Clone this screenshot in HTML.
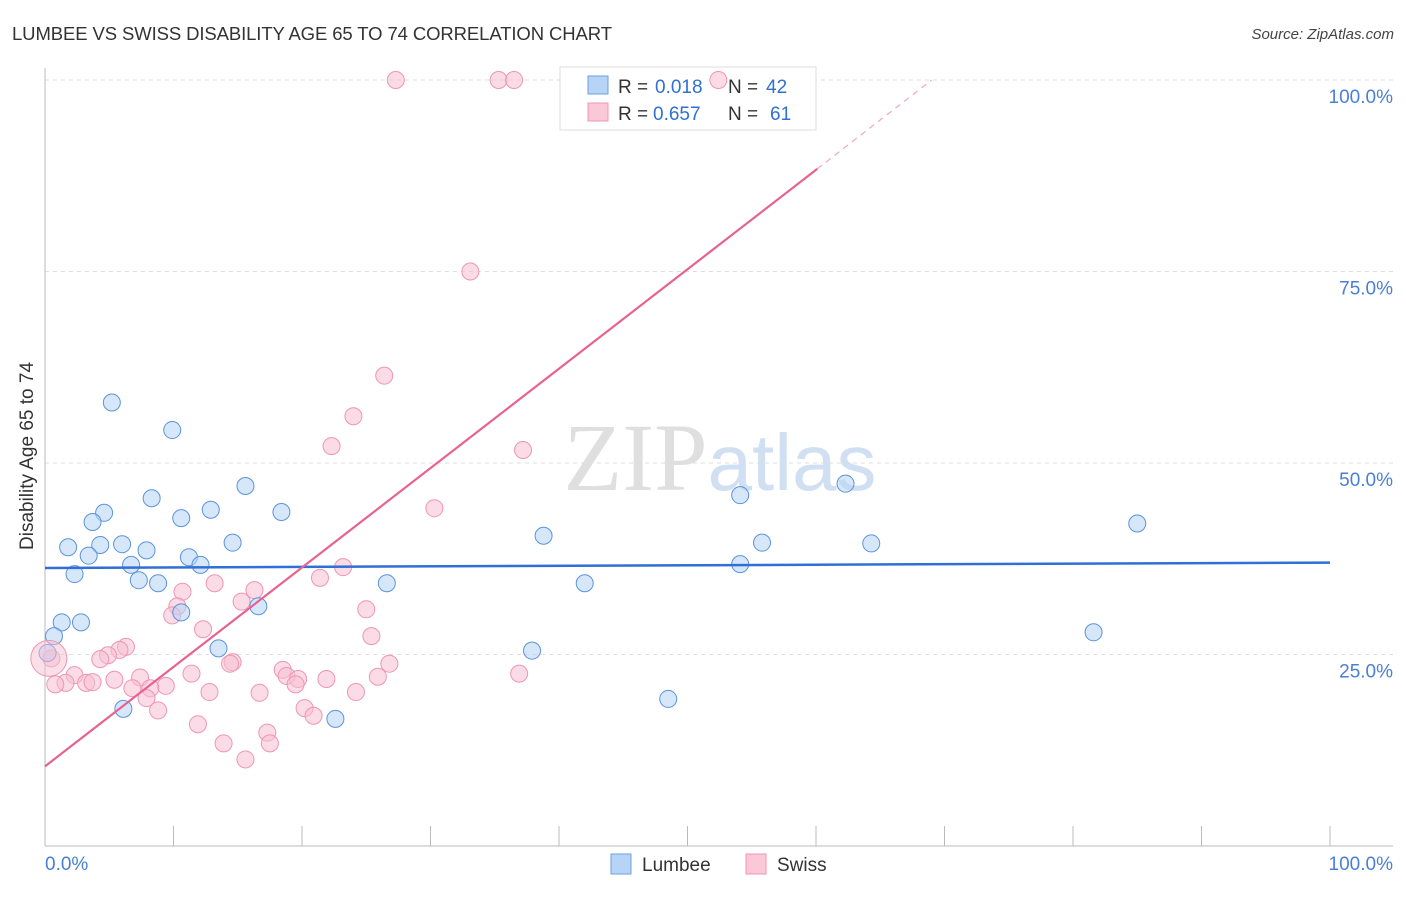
<!DOCTYPE html>
<html><head><meta charset="utf-8"><style>
body{margin:0;background:#fff;font-family:"Liberation Sans",sans-serif;}
svg text{font-family:"Liberation Sans",sans-serif;}
</style></head><body>
<svg id="chart" width="1406" height="892" viewBox="0 0 1406 892" xmlns="http://www.w3.org/2000/svg">
<text x="12" y="40" font-size="18.5" fill="#333" textLength="600">LUMBEE VS SWISS DISABILITY AGE 65 TO 74 CORRELATION CHART</text>
<text x="1394" y="39" font-size="15" fill="#444" text-anchor="end" font-style="italic">Source: ZipAtlas.com</text>
<text x="720" y="490" font-size="96" text-anchor="middle" fill="#ddd" opacity="0.8"><tspan font-family="Liberation Serif" fill="#d8d8d8">ZIP</tspan><tspan fill="#c5d8ef" font-size="80">atlas</tspan></text>
<g id="grid"></g>
<g id="axes"></g>
<g>
<rect x="560" y="67" width="256" height="63" fill="#fff" stroke="#ddd"/>
<rect x="588" y="76" width="20" height="18" fill="#b7d3f5" stroke="#6d9fe0"/>
<rect x="588" y="103" width="20" height="18" fill="#fbc8d8" stroke="#f095b4"/>
<text x="618" y="93" font-size="19" fill="#333">R = </text><text x="655" y="93" font-size="19" fill="#2f6fd6">0.018</text>
<text x="728" y="93" font-size="19" fill="#333">N = </text><text x="766" y="93" font-size="19" fill="#2f6fd6">42</text>
<text x="618" y="120" font-size="19" fill="#333">R = </text><text x="653" y="120" font-size="19" fill="#2f6fd6">0.657</text>
<text x="728" y="120" font-size="19" fill="#333">N = </text><text x="770" y="120" font-size="19" fill="#2f6fd6">61</text>
</g>
<g id="marks"></g>
<text transform="translate(33,456) rotate(-90)" font-size="19" fill="#333" text-anchor="middle">Disability Age 65 to 74</text>
<text x="45" y="870" font-size="19" fill="#4a7fd4">0.0%</text>
<text x="1393" y="870" font-size="19" fill="#4a7fd4" text-anchor="end">100.0%</text>
<g>
<rect x="611" y="854" width="20" height="20" fill="#b7d3f5" stroke="#6d9fe0"/>
<text x="642" y="871" font-size="19" fill="#333">Lumbee</text>
<rect x="746" y="854" width="20" height="20" fill="#fbc8d8" stroke="#f095b4"/>
<text x="777" y="871" font-size="19" fill="#333">Swiss</text>
</g>
</svg>
<script>
const yTicks=[25,50,75,100];
const yTickLabels=["25.0%","50.0%","75.0%","100.0%"];
const xTicks=[0,10,20,30,40,50,60,70,80,90,100];
const lumbeeX=[5.2,9.9,8.3,10.6,4.6,3.7,12.9,15.6,18.4,1.8,4.3,6,3.4,7.9,11.2,12.1,14.6,6.7,2.3,7.3,8.8,10.6,16.6,26.6,1.3,2.8,0.7,0.2,13.5,6.1,22.6,38.8,42,37.9,48.5,54.1,54.1,55.8,62.3,64.3,85,81.6];
const lumbeeY=[57.9,54.3,45.4,42.8,43.5,42.3,43.9,47,43.6,39,39.3,39.4,37.9,38.6,37.7,36.7,39.6,36.7,35.5,34.7,34.3,30.5,31.3,34.3,29.2,29.2,27.4,25.2,25.8,17.9,16.6,40.5,34.3,25.5,19.2,45.8,36.8,39.6,47.3,39.5,42.1,27.9];
const swissX=[27.3,35.3,36.5,52.4,33.1,26.4,24,22.3,37.2,30.3,23.2,21.4,13.2,10.7,16.3,10.3,9.9,15.3,25,12.3,25.4,6.3,5.8,4.9,4.3,14.6,14.4,26.8,25.9,18.5,36.9,11.4,7.4,2.3,1.6,0.8,3.2,3.7,5.4,9.4,6.8,8.2,7.9,12.8,18.8,19.7,19.5,21.9,16.7,24.2,20.2,20.9,8.8,11.9,17.3,17.5,13.9,15.6,0.5];
const swissY=[100,100,100,100,75,61.4,56.1,52.2,51.7,44.1,36.4,35,34.3,33.2,33.4,31.3,30.1,31.9,30.9,28.3,27.4,26,25.6,24.9,24.4,24,23.8,23.8,22.1,23,22.5,22.5,22,22.3,21.3,21.1,21.3,21.4,21.7,20.9,20.6,20.6,19.3,20.1,22.2,21.8,21.1,21.8,20,20.1,18,17,17.7,15.9,14.8,13.4,13.4,11.3,24.5];
const lumbeeFit=[[0,36.3],[100,37]];
const swissFit=[[0,10.4],[60.1,88.4],[69,100]];
const NS="http://www.w3.org/2000/svg";
const X=v=>45+v*12.85, Y=v=>846-v*7.66;
function mk(tag,attrs,parent){const e=document.createElementNS(NS,tag);for(const k in attrs)e.setAttribute(k,attrs[k]);document.getElementById(parent).appendChild(e);return e;}
yTicks.forEach((t,i)=>{
 const l=mk('line',{x1:45,x2:1393,y1:Y(t),y2:Y(t),stroke:'#ddd','stroke-dasharray':'4,4'},'grid');
 
 
 const tx=mk('text',{x:1393,y:Y(t)+23,'font-size':19,fill:'#4a7fd4','text-anchor':'end'},'grid');
 tx.textContent=yTickLabels[i];
 
 
});
let a=mk('line',{x1:45,x2:45,y1:68,y2:846,stroke:'#bbb'},'axes');


a=mk('line',{x1:45,x2:1393,y1:846,y2:846,stroke:'#bbb'},'axes');


xTicks.forEach(t=>{const l=mk('line',{x1:X(t),x2:X(t),y1:826,y2:846,stroke:'#bbb'},'axes');
 
 });
function dots(xs,ys,fill,stroke,name){xs.forEach((x,i)=>{const c=mk('circle',{cx:X(x),cy:Y(ys[i]),r:8.5,fill:fill,'fill-opacity':0.55,stroke:stroke,'stroke-width':1},'marks');
 
 });}
dots(swissX,swissY,'#f8bfd1','#ef95b3','swiss-point');
dots(lumbeeX,lumbeeY,'#b7d3f5','#5b93dd','lumbee-point');
let big=mk('circle',{cx:X(0.3),cy:Y(24.5),r:18,fill:'#f8bfd1','fill-opacity':0.5,stroke:'#ef95b3'},'marks');


let f=mk('line',{x1:X(lumbeeFit[0][0]),y1:Y(lumbeeFit[0][1]),x2:X(lumbeeFit[1][0]),y2:Y(lumbeeFit[1][1]),stroke:'#2f6fd6','stroke-width':2.5},'marks');


f=mk('line',{x1:X(swissFit[0][0]),y1:Y(swissFit[0][1]),x2:X(swissFit[1][0]),y2:Y(swissFit[1][1]),stroke:'#e8628f','stroke-width':2.2},'marks');


f=mk('line',{x1:X(swissFit[1][0]),y1:Y(swissFit[1][1]),x2:X(swissFit[2][0]),y2:Y(swissFit[2][1]),stroke:'#f2a5bf','stroke-width':1.2,'stroke-dasharray':'6,5'},'marks');


</script>
</body></html>
